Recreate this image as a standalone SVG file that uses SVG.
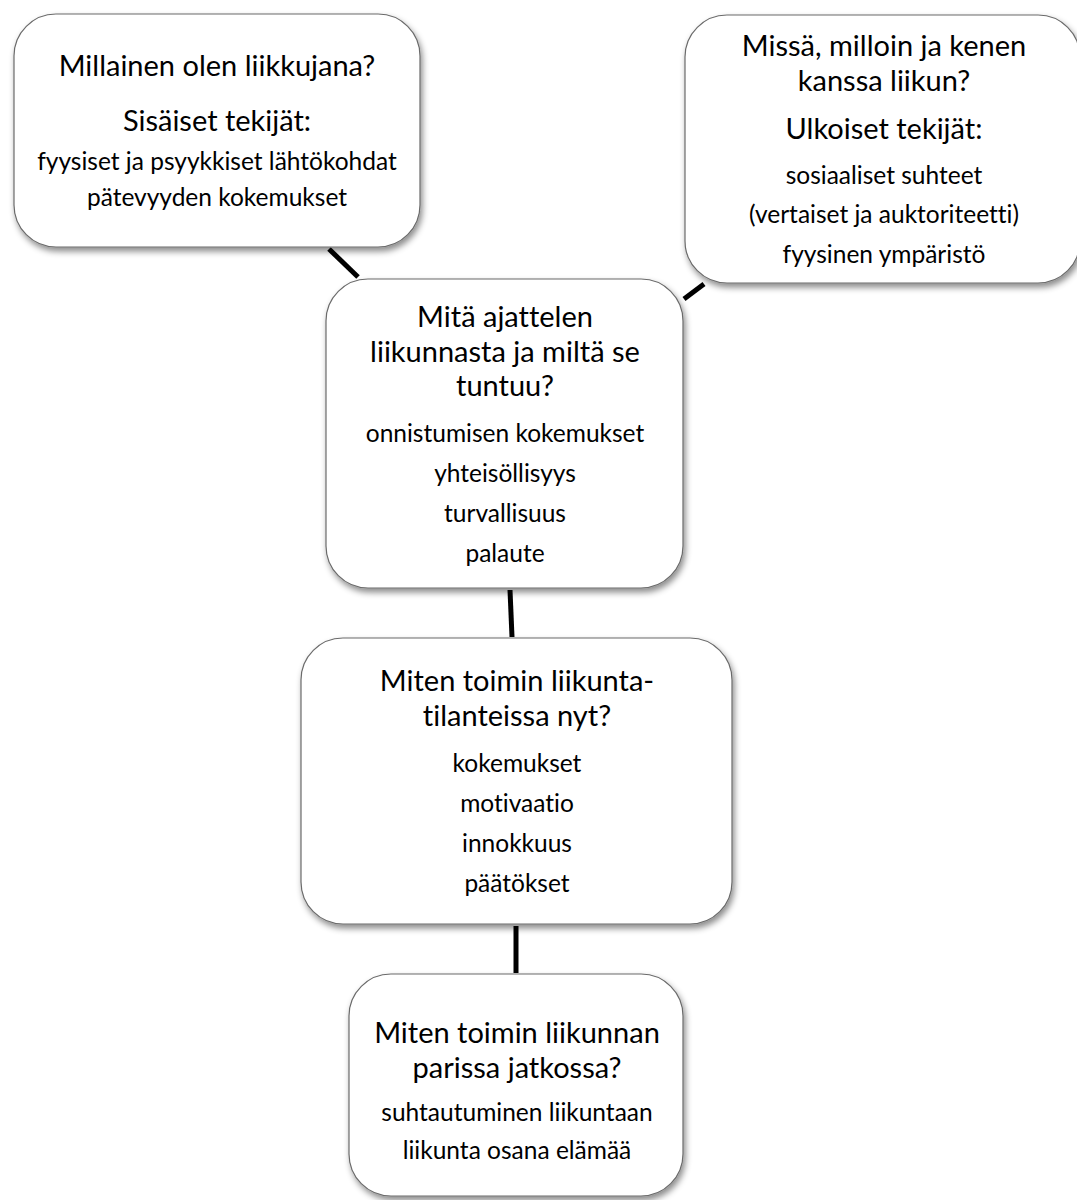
<svg xmlns="http://www.w3.org/2000/svg" width="1077" height="1200" viewBox="0 0 1077 1200">
<style>
.box{fill:#ffffff;stroke:#6b6b6b;stroke-width:1.2;filter:url(#sh)}
.t{font-family:Lato,"Open Sans","Liberation Sans",sans-serif;fill:#000;text-anchor:middle;font-variant-ligatures:none;font-feature-settings:"liga" 0}
.h{font-size:29px}
.s{font-size:24.5px}
.c{stroke:#000;stroke-width:5;fill:none}
</style>
<defs>
<filter id="sh" x="-10%" y="-10%" width="125%" height="130%">
<feDropShadow dx="2" dy="4" stdDeviation="3" flood-color="#000" flood-opacity="0.45"/>
</filter>
</defs>
<rect width="1077" height="1200" fill="#ffffff"/>
<g id="connectors">
<line class="c" x1="329" y1="249" x2="358" y2="277"/>
<line class="c" x1="684" y1="299" x2="704" y2="284"/>
<line class="c" x1="510" y1="590" x2="512" y2="637"/>
<line class="c" x1="516" y1="926" x2="516" y2="973"/>
</g>
<g id="node-sisaiset">
<rect class="box" x="14" y="14" width="406" height="233" rx="42"/>
<text class="t h" x="217" y="76">Millainen olen liikkujana?</text>
<text class="t h" x="217" y="131">Sisäiset tekijät:</text>
<text class="t s" x="217" y="170">fyysiset ja psyykkiset lähtökohdat</text>
<text class="t s" x="217" y="206">pätevyyden kokemukset</text>
</g>
<g id="node-ulkoiset">
<rect class="box" x="685" y="15" width="395" height="268" rx="42"/>
<text class="t h" x="884" y="56">Missä, milloin ja kenen</text>
<text class="t h" x="884" y="91">kanssa liikun?</text>
<text class="t h" x="884" y="139">Ulkoiset tekijät:</text>
<text class="t s" x="884" y="184">sosiaaliset suhteet</text>
<text class="t s" x="884" y="223">(vertaiset ja auktoriteetti)</text>
<text class="t s" x="884" y="263">fyysinen ympäristö</text>
</g>
<g id="node-ajattelen">
<rect class="box" x="326" y="279" width="357" height="309" rx="42"/>
<text class="t h" x="505" y="327">Mitä ajattelen</text>
<text class="t h" x="505" y="362">liikunnasta ja miltä se</text>
<text class="t h" x="505" y="396">tuntuu?</text>
<text class="t s" x="505" y="442">onnistumisen kokemukset</text>
<text class="t s" x="505" y="482">yhteisöllisyys</text>
<text class="t s" x="505" y="522">turvallisuus</text>
<text class="t s" x="505" y="562">palaute</text>
</g>
<g id="node-nyt">
<rect class="box" x="301" y="638" width="431" height="286" rx="42"/>
<text class="t h" x="517" y="691">Miten toimin liikunta-</text>
<text class="t h" x="517" y="726">tilanteissa nyt?</text>
<text class="t s" x="517" y="772">kokemukset</text>
<text class="t s" x="517" y="812">motivaatio</text>
<text class="t s" x="517" y="852">innokkuus</text>
<text class="t s" x="517" y="892">päätökset</text>
</g>
<g id="node-jatkossa">
<rect class="box" x="349" y="974" width="334" height="222" rx="42"/>
<text class="t h" x="517" y="1043">Miten toimin liikunnan</text>
<text class="t h" x="517" y="1078">parissa jatkossa?</text>
<text class="t s" x="517" y="1121">suhtautuminen liikuntaan</text>
<text class="t s" x="517" y="1159">liikunta osana elämää</text>
</g>
</svg>
